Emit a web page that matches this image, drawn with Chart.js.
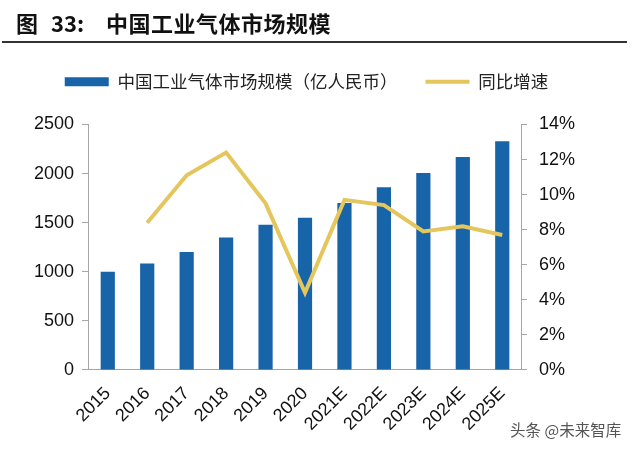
<!DOCTYPE html>
<html>
<head>
<meta charset="utf-8">
<script src="https://cdn.jsdelivr.net/npm/chart.js@4.4.1/dist/chart.umd.min.js"></script>
<style>
  html, body { margin: 0; padding: 0; background: #fff; }
  #wrap { position: relative; width: 640px; height: 452px; overflow: hidden; }
  #chart { position: absolute; left: 0; top: 0; }
  .title { position: absolute; top: 11px; font: bold 22px/22px "Noto Sans CJK SC", sans-serif; color: #111; white-space: nowrap; }
  #rule { position: absolute; left: 2px; top: 41px; width: 625px; height: 2px; background: #333; }
  #mark { position: absolute; left: 510px; top: 420px; font: 15.5px/18px "Noto Sans CJK SC", sans-serif; color: #555; white-space: nowrap; }
</style>
</head>
<body>
<div id="wrap">
  <canvas id="chart" width="640" height="452"></canvas>
  <div class="title" style="left:16px">图</div>
  <div class="title" style="left:51px">33:</div>
  <div class="title" style="left:106px;letter-spacing:0.5px">中国工业气体市场规模</div>
  <div id="rule"></div>
  <div id="mark">头条 @未来智库</div>
</div>
<script>
// data
const years = ['2015', '2016', '2017', '2018', '2019', '2020', '2021E', '2022E', '2023E', '2024E', '2025E'];
const marketSize = [1000, 1085, 1200, 1350, 1480, 1550, 1700, 1860, 2005, 2170, 2330]; // 亿人民币
const growthPct = [null, 8.4, 11.1, 12.4, 9.5, 4.4, 9.7, 9.4, 7.9, 8.2, 7.7];
const leftTicks = [0, 500, 1000, 1500, 2000, 2500];
const rightTicks = [0, 2, 4, 6, 8, 10, 12, 14];

const BLUE = '#1764A9';
const GOLD = '#E4C65C';
const AXIS = '#A6A6A6';
const tickFont = { family: '"Liberation Sans", Arial, sans-serif', size: 18 };

// push the plot down below the legend
const legendGap = {
  id: 'legendGap',
  beforeInit(chart) {
    const fit = chart.legend.fit;
    chart.legend.fit = function () { fit.call(this); this.height += 24; };
  }
};

new Chart(document.getElementById('chart'), {
  type: 'bar',
  data: {
    labels: years,
    datasets: [
      { label: '中国工业气体市场规模（亿人民币）', data: marketSize, backgroundColor: BLUE,
        yAxisID: 'y', categoryPercentage: 1, barPercentage: 0.36, order: 2 },
      { type: 'line', label: '同比增速', data: growthPct, borderColor: GOLD, backgroundColor: GOLD,
        borderWidth: 4, pointRadius: 0, tension: 0, yAxisID: 'y1', order: 1 }
    ]
  },
  options: {
    responsive: false, animation: false,
    layout: { padding: { left: 26, right: 53, top: 45, bottom: 4 } },
    plugins: {
      legend: {
        position: 'top',
        labels: {
          usePointStyle: true, pointStyleWidth: 44, boxHeight: 9, padding: 28, color: '#222',
          font: { family: '"Noto Sans CJK SC", sans-serif', size: 17.5 },
          sort: (a, b) => a.datasetIndex - b.datasetIndex,
          generateLabels(chart) {
            const items = Chart.defaults.plugins.legend.labels.generateLabels(chart);
            items.forEach(it => {
              const bar = it.datasetIndex === 0;
              it.pointStyle = bar ? 'rect' : 'line';
              it.lineWidth = bar ? 0 : 4;
            });
            return items;
          }
        }
      },
      tooltip: { enabled: false }
    },
    scales: {
      x: {
        grid: { display: false, drawTicks: false },
        border: { display: true, color: AXIS, width: 1 },
        ticks: { color: '#111', font: { family: tickFont.family, size: 18 }, minRotation: 45, maxRotation: 45, padding: 13, autoSkip: false }
      },
      y: {
        position: 'left', min: 0, max: 2500,
        afterBuildTicks: s => { s.ticks = leftTicks.map(v => ({ value: v })); },
        grid: { drawOnChartArea: false, drawTicks: true, tickLength: 6, color: AXIS },
        border: { display: true, color: AXIS, width: 1 },
        ticks: { color: '#111', font: tickFont, padding: 8, callback: v => String(v) }
      },
      y1: {
        position: 'right', min: 0, max: 14,
        afterBuildTicks: s => { s.ticks = rightTicks.map(v => ({ value: v })); },
        grid: { drawOnChartArea: false, drawTicks: true, tickLength: 5, color: AXIS },
        border: { display: true, color: AXIS, width: 1 },
        ticks: { color: '#111', font: tickFont, padding: 12, callback: v => v + '%' }
      }
    }
  },
  plugins: [legendGap]
});
</script>
</body>
</html>
